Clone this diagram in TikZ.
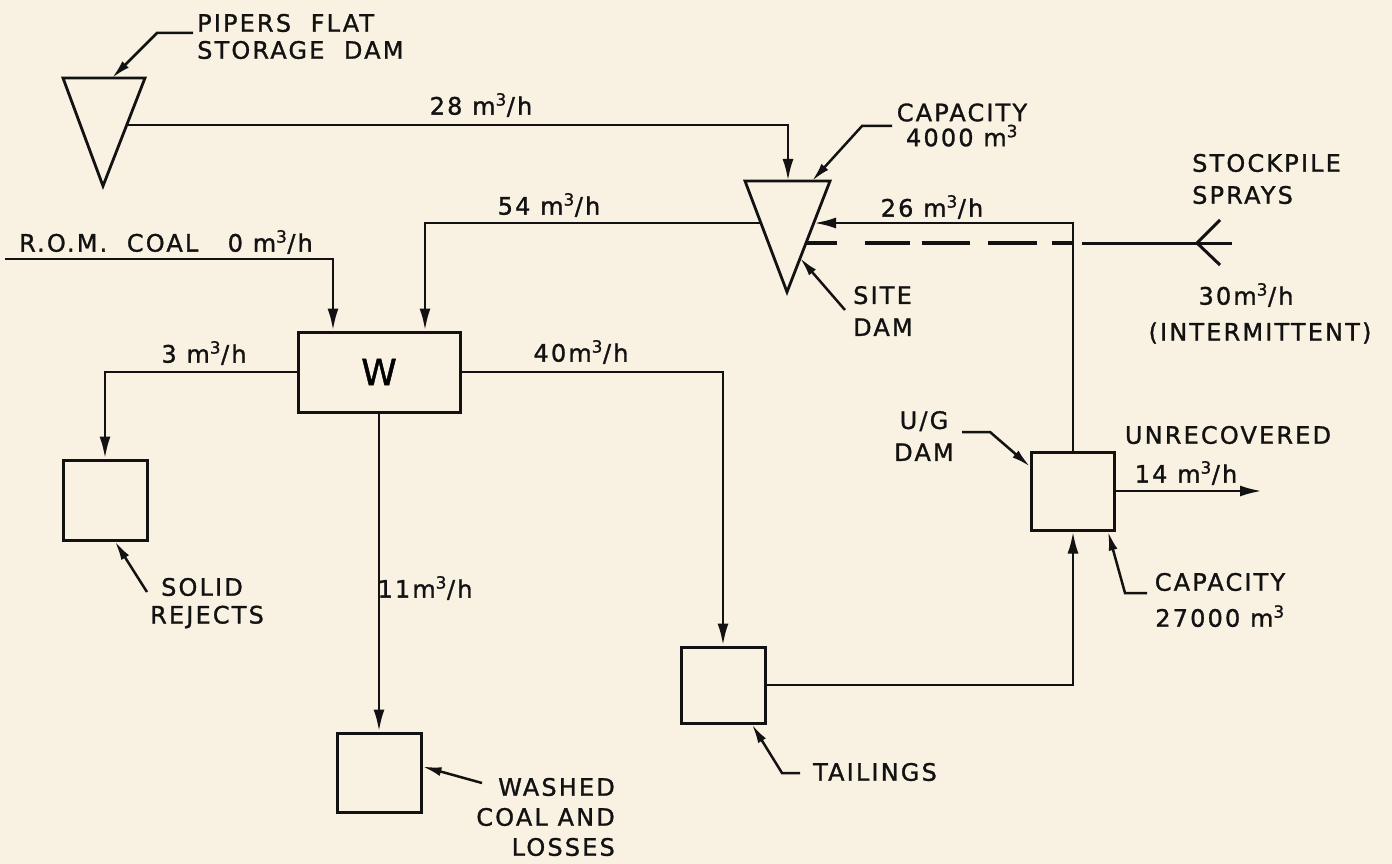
\documentclass[tikz,border=0pt]{standalone}
\usepackage{fontspec}
\setmainfont{DejaVu Sans}[LetterSpace=9,FakeBold=1.2]
\usetikzlibrary{arrows.meta}
\definecolor{bgcream}{RGB}{249,241,226}
\definecolor{ink}{RGB}{18,18,18}
\newcommand{\mcub}{m\textsuperscript{3}}
\begin{document}
\begin{tikzpicture}[x=1pt,y=-1pt,
  ln/.style={draw=ink,line width=2.8pt},
  flow/.style={ln,-{Latex[length=22pt,width=11pt]}},
  lead/.style={draw=ink,line width=2.5pt,-{Latex[length=19pt,width=9pt]}},
  tank/.style={draw=ink,line width=3pt,minimum width=84pt,minimum height=80pt,inner sep=0pt},
  lab/.style={font=\fontsize{24}{28}\selectfont,text=ink,inner sep=0pt},
  dam/.style={draw=ink,line width=2.8pt,line join=miter}]
\useasboundingbox (0,0) rectangle (1392,864);
\fill[bgcream] (0,0) rectangle (1392,864);

% dams (triangles)
\draw[dam] (63,78) -- (145,78) -- (103,186) -- cycle;
\draw[dam] (745,181) -- (830,181) -- (787,292) -- cycle;
\coordinate (pf28) at (127,125);
\coordinate (pflead) at (112,78);
\coordinate (sdin28) at (788,181);
\coordinate (sdcap) at (812,181);
\coordinate (sd54) at (761,223);
\coordinate (sd26) at (814,223);
\coordinate (sdspr) at (806,243);
\coordinate (sdsite) at (800,258);

% boxes
\node[tank,minimum width=162pt] (W) at (379,372) {\fontsize{36}{40}\selectfont W};
\node[tank] (rej) at (105,500) {};
\node[tank,minimum height=79pt] (wash) at (379,772.5) {};
\node[tank,minimum height=76pt] (tail) at (723,685) {};
\node[tank,minimum height=78pt,minimum width=83pt] (ug) at (1073,491) {};

% flows
\draw[flow] (pf28) -| (sdin28);
\draw[flow] (sd54) -| ([xshift=46pt]W.north);
\coordinate (romstart) at (5,259);
\draw[flow] (romstart) -| ([xshift=-46pt]W.north);
\draw[flow] (W.west) -| (rej.north);
\draw[flow] (W.east) -| (tail.north);
\draw[flow] (W.south) -- (wash.north);
\draw[flow] (tail.east) -| (ug.south);
\draw[flow] (ug.north) |- (sd26);
\coordinate (unrec) at (1262,490);
\draw[flow] (ug.east) -- (ug.east -| unrec);

% stockpile sprays
\coordinate (dashR) at (1072,243);
\coordinate (dashS) at (1082,243);
\coordinate (sprayE) at (1232,243);
\coordinate (sprayV) at (1197,243);
\coordinate (sprayA) at (1220,220);
\coordinate (sprayB) at (1220,265);
\draw[draw=ink,line width=3.6pt,dash pattern=on 20pt off 15pt on 49pt off 18pt on 48pt off 12pt on 45pt off 28pt on 40pt] (dashR) -- (sdspr);
\draw[ln,line width=3pt] (sprayE) -- (dashS);
\draw[ln,line width=3pt] (sprayA) -- (sprayV) -- (sprayB);

% leaders
\coordinate (l1a) at (193,33); \coordinate (l1b) at (157,33);
\draw[lead] (l1a) -- (l1b) -- (pflead);
\coordinate (l2a) at (892,126); \coordinate (l2b) at (862,126);
\draw[lead] (l2a) -- (l2b) -- (sdcap);
\coordinate (l3a) at (845,310);
\draw[lead] (l3a) -- (sdsite);
\coordinate (l4a) at (962,432); \coordinate (l4b) at (990,432);
\draw[lead] (l4a) -- (l4b) -- ([yshift=-16pt]ug.north west);
\coordinate (l5a) at (1147,593); \coordinate (l5b) at (1125,593);
\draw[lead] (l5a) -- (l5b) -- ([xshift=-8pt]ug.south east);
\coordinate (l6a) at (147,592);
\draw[lead] (l6a) -- ([xshift=10pt]rej.south);
\coordinate (l7a) at (482,783);
\draw[lead] (l7a) -- ([yshift=6pt]wash.east);
\coordinate (l8a) at (800,773); \coordinate (l8b) at (782,773);
\draw[lead] (l8a) -- (l8b) -- ([xshift=29pt]tail.south);

% labels
\node[lab,anchor=west,align=left,font=\fontsize{24}{27}\selectfont] (tpipers) at (197,36.5) {PIPERS\ \ FLAT\\STORAGE\ \ DAM};
\node[lab] (t28) at (481,105) {28 \mcub/h};
\node[lab,align=center,font=\fontsize{24}{25}\selectfont] (tcap1) at (962,125) {CAPACITY\\4000 \mcub};
\node[lab] (t54) at (549,205) {54 \mcub/h};
\node[lab] (t26) at (932,207) {26 \mcub/h};
\node[lab,anchor=west,align=left,font=\fontsize{24}{32}\selectfont] (tstock) at (1192,179) {STOCKPILE\\SPRAYS};
\node[lab] (t30) at (1246,295) {30\mcub/h};
\node[lab] (tint) at (1260,333) {(INTERMITTENT)};
\node[lab,anchor=west,align=left,font=\fontsize{24}{32}\selectfont] (tsite) at (853,311) {SITE\\DAM};
\node[lab] (trom) at (166,242) {R.O.M.\ \ COAL\ \ \ 0 \mcub/h};
\node[lab] (t3) at (204,353) {3 \mcub/h};
\node[lab] (t40) at (581,352) {40\mcub/h};
\node[lab,align=center,font=\fontsize{24}{32}\selectfont] (tug) at (924,436) {U/G\\DAM};
\node[lab] (tunrec) at (1228,435) {UNRECOVERED};
\node[lab] (t14) at (1186,473) {14 \mcub/h};
\node[lab,align=center,font=\fontsize{24}{36}\selectfont] (tcap2) at (1220,600) {CAPACITY\\27000 \mcub};
\node[lab] (tsolid) at (202,587) {SOLID};
\node[lab] (trej) at (207,617) {REJECTS};
\node[lab] (t11) at (425,588) {11\mcub/h};
\node[lab,anchor=east,align=right,font=\fontsize{24}{30}\selectfont] (twash) at (615,817) {WASHED\\COAL AND\\LOSSES};
\node[lab] (ttail) at (875,772) {TAILINGS};
\end{tikzpicture}
\end{document}
